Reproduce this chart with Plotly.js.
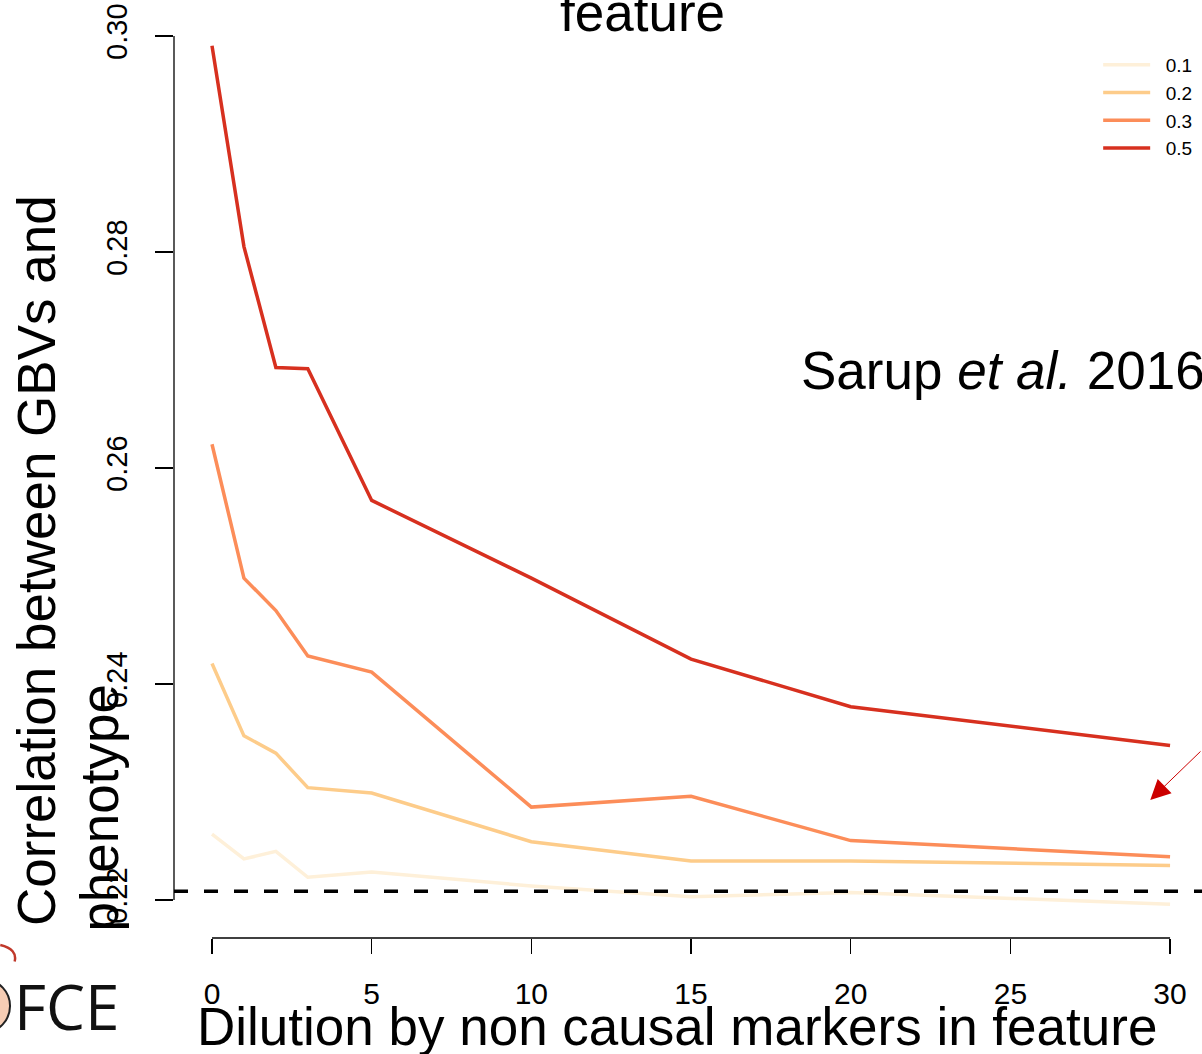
<!DOCTYPE html>
<html>
<head>
<meta charset="utf-8">
<script src="https://cdn.plot.ly/plotly-3.0.1.min.js"></script>
<style>html,body{margin:0;padding:0;background:#fff;}#chart{width:1202px;height:1054px;}</style>
</head>
<body>
<div id="chart"></div>
<script>
// Dilution levels (non causal markers in feature)
const dilution = [0, 1, 2, 3, 5, 10, 15, 20, 30];
// Series names (legend labels)
const seriesNames = ['0.1', '0.2', '0.3', '0.5'];
// Correlation values per series
const corr01 = [0.2261, 0.2238, 0.2245, 0.2221, 0.2226, 0.2213, 0.2203, 0.2207, 0.2196];
const corr02 = [0.2419, 0.2352, 0.2336, 0.2304, 0.2299, 0.2254, 0.2236, 0.2236, 0.2232];
const corr03 = [0.2622, 0.2498, 0.2468, 0.2426, 0.2411, 0.2286, 0.2296, 0.2255, 0.2240];
const corr05 = [0.2991, 0.2805, 0.2693, 0.2692, 0.2570, 0.2498, 0.2423, 0.2379, 0.2343];
const baselineValue = 0.2208;
const xTicks = [0, 5, 10, 15, 20, 25, 30];
const yTicks = [0.22, 0.24, 0.26, 0.28, 0.30];
const yTickText = ['0.22', '0.24', '0.26', '0.28', '0.30'];
const colors = ['#FEF0D9', '#FDCC8A', '#FC8D59', '#D7301F'];

const allSeries = [corr01, corr02, corr03, corr05];
const traces = allSeries.map((vals, i) => ({
  x: dilution, y: vals, type: 'scatter', mode: 'lines', name: '\u00a0\u00a0' + seriesNames[i],
  line: {color: colors[i], width: 3.5}, hoverinfo: 'skip'
}));

const FONT = 'Liberation Sans, Arial, Helvetica, sans-serif';
const layout = {
  width: 1202, height: 1054,
  margin: {l: 174, r: 0, t: 0, b: 116},
  paper_bgcolor: '#fff', plot_bgcolor: '#fff',
  showlegend: true,
  legend: {x: 0.899, xanchor: 'left', y: 0.951, yanchor: 'top', font: {family: FONT, size: 19, color: '#000'},
           bgcolor: 'rgba(0,0,0,0)', itemwidth: 47, tracegroupgap: 0},
  xaxis: {range: [-1.19, 31.0], tickvals: xTicks, ticktext: xTicks.map(String), ticks: 'outside', ticklen: 15,
          tickwidth: 1.3, tickcolor: '#000', showgrid: false, zeroline: false, showline: false,
          tickfont: {family: FONT, size: 30, color: '#000'}, ticklabelstandoff: 14},
  yaxis: {range: [0.216481, 0.303333], tickvals: yTicks, ticktext: yTickText, ticks: 'outside', ticklen: 18,
          tickwidth: 1.3, tickcolor: '#000', showgrid: false, zeroline: false, showline: false, tickangle: -90,
          tickfont: {family: FONT, size: 29, color: '#000'}, ticklabelstandoff: 16},
  shapes: [
    {type: 'line', xref: 'x', yref: 'paper', x0: xTicks[0], x1: xTicks[xTicks.length-1], y0: 0, y1: 0, line: {color: '#000', width: 1.3}},
    {type: 'line', xref: 'paper', yref: 'y', x0: 0, x1: 0, y0: yTicks[0], y1: yTicks[yTicks.length-1], line: {color: '#000', width: 1.3}},
    {type: 'line', xref: 'paper', yref: 'y', x0: 0, x1: 1, y0: baselineValue, y1: baselineValue, line: {color: '#000', width: 3.5, dash: '14px,16px'}},
    {type: 'circle', xref: 'paper', yref: 'paper', x0: -0.208, x1: -0.1595, y0: -0.0448, y1: -0.1002, fillcolor: '#F6CDB4', line: {color: '#222', width: 2}},
    {type: 'path', xref: 'paper', yref: 'paper', path: 'M -0.169 -0.0075 Q -0.152 -0.012 -0.155 -0.0250', line: {color: '#C0392B', width: 2.5}}
  ],
  annotations: [
    {text: 'feature', xref: 'paper', yref: 'paper', x: 0.456, y: 0.987, xanchor: 'center', yanchor: 'middle', showarrow: false,
     font: {family: FONT, size: 53, color: '#000'}},
    {text: 'Dilution by non causal markers in feature', xref: 'paper', yref: 'paper', x: 0.489, y: -0.094,
     xanchor: 'center', yanchor: 'middle', showarrow: false, font: {family: FONT, size: 53, color: '#000'}},
    {text: 'Correlation between GBVs and', xref: 'paper', yref: 'paper', x: -0.1333, y: 0.403, textangle: -90,
     xanchor: 'center', yanchor: 'middle', showarrow: false, font: {family: FONT, size: 53, color: '#000'}},
    {text: 'phenotype', xref: 'paper', yref: 'paper', x: -0.072, y: 0.139, textangle: -90,
     xanchor: 'center', yanchor: 'middle', showarrow: false, font: {family: FONT, size: 53, color: '#000'}},
    {text: 'Sarup <i>et al.</i> 2016', xref: 'paper', yref: 'paper', x: 0.608, y: 0.6045, xanchor: 'left', yanchor: 'middle',
     showarrow: false, font: {family: FONT, size: 53, color: '#000'}},
    {text: 'FCE', xref: 'paper', yref: 'paper', x: -0.1045, y: -0.072, xanchor: 'center', yanchor: 'middle', showarrow: false,
     font: {family: 'Open Sans, sans-serif', size: 62, color: '#111', weight: 400}},
    {text: '', xref: 'x', yref: 'y', x: 29.38, y: 0.22926, ax: 56, ay: -50, showarrow: true, arrowhead: 2,
     arrowsize: 4, arrowwidth: 1, arrowcolor: '#CC0000'}
  ]
};

Plotly.newPlot('chart', traces, layout, {displayModeBar: false, staticPlot: true});
</script>
</body>
</html>
